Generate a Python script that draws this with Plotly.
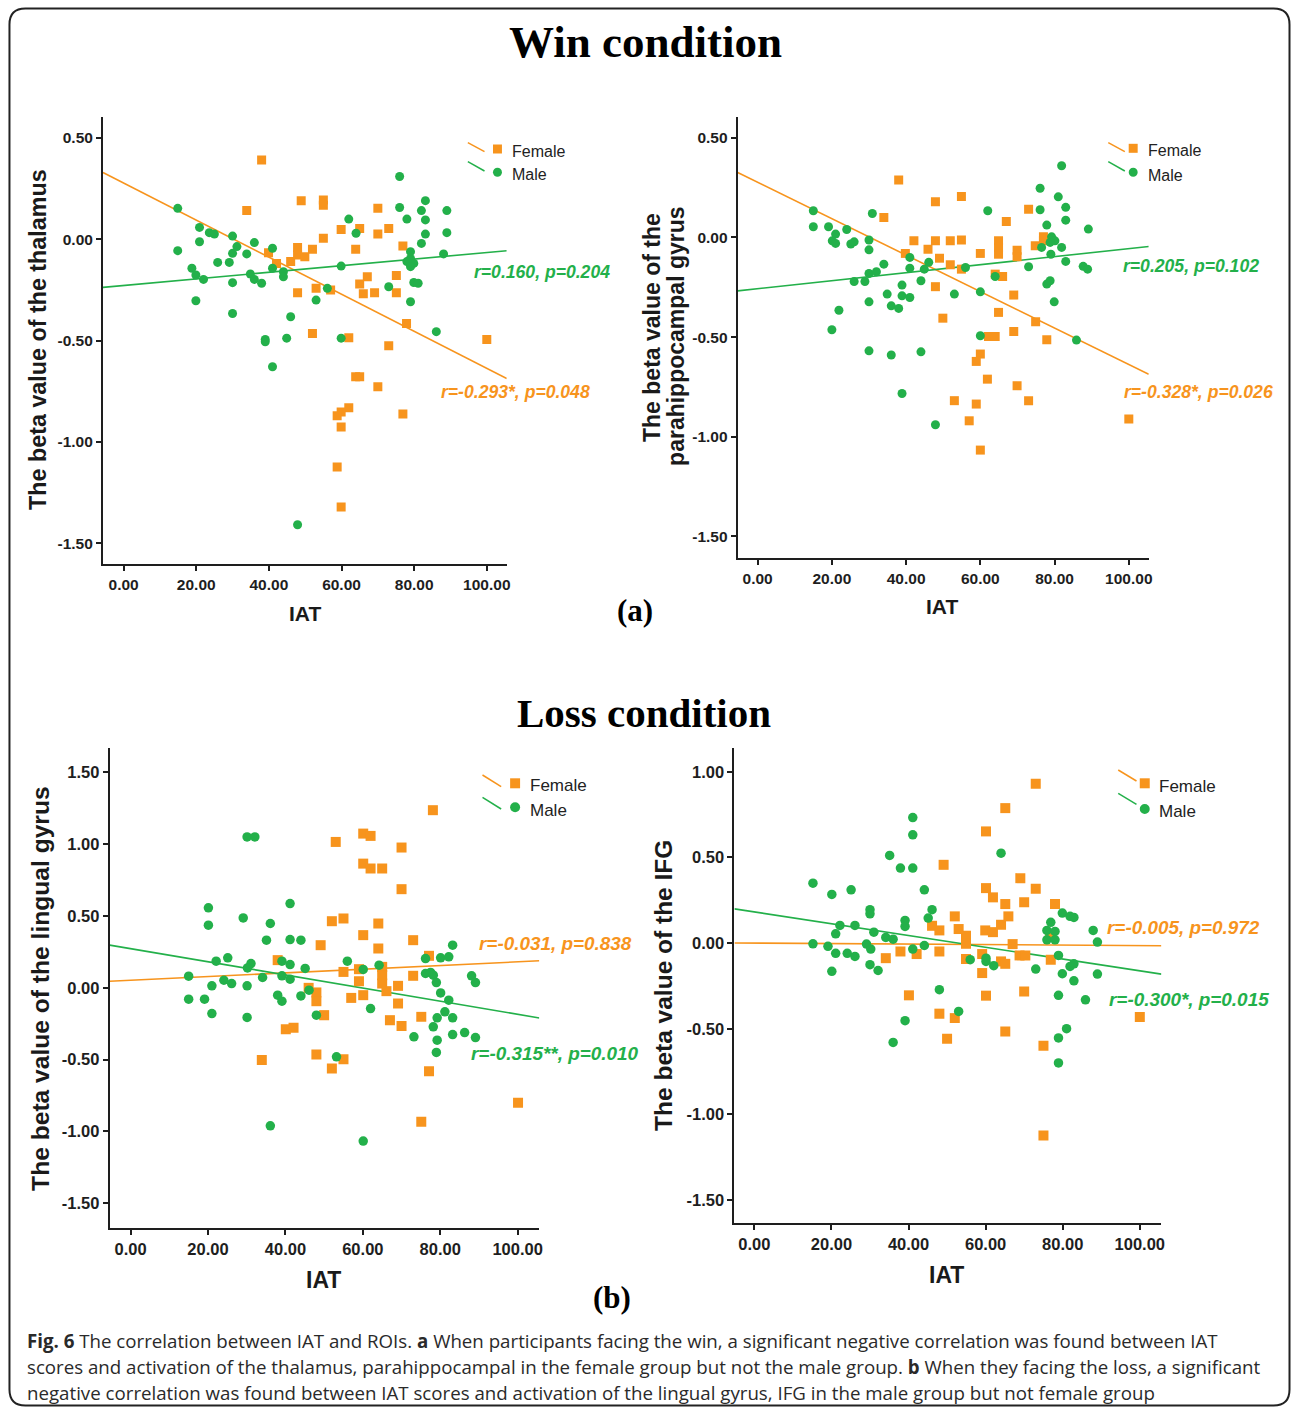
import plotly.graph_objects as go

W, H = 1295, 1410
ORANGE = "#F7941D"
GREEN = "#23B04A"
SANS = "Liberation Sans, Arial, sans-serif"
SERIF = "Liberation Serif, Times New Roman, serif"

# ---------------- data ----------------
# (a) Win condition - thalamus
a_female_iat = [38.0, 48.9, 55.0, 55.0, 33.9, 70.0, 59.9, 65.0, 73.0, 70.0, 55.0, 76.9, 47.9, 52.0, 63.9,
                39.9, 47.9, 49.9, 46.0, 42.1, 67.1, 65.0, 75.1, 53.0, 47.9, 57.0, 66.0, 69.1, 75.1, 77.9,
                52.0, 62.0, 73.0, 100.0, 63.9, 65.0, 70.0, 76.9, 62.0, 59.9, 58.8, 59.9, 58.8, 59.9]
a_female_beta = [0.392, 0.191, 0.194, 0.168, 0.142, 0.153, 0.049, 0.054, 0.053, 0.026, 0.005, -0.033, -0.040,
                 -0.049, -0.049, -0.066, -0.077, -0.086, -0.110, -0.119, -0.185, -0.221, -0.178, -0.242, -0.264,
                 -0.250, -0.269, -0.264, -0.264, -0.415, -0.465, -0.486, -0.526, -0.494, -0.679, -0.679, -0.728,
                 -0.863, -0.832, -0.852, -0.871, -0.926, -1.124, -1.321]
a_male_iat = [14.9, 76.0, 83.1, 76.0, 82.0, 89.0, 78.0, 83.1, 62.0, 83.1, 89.0, 64.0, 82.0, 20.9, 23.6, 25.0,
              30.0, 20.9, 36.0, 41.0, 14.9, 31.2, 30.0, 33.9, 29.1, 25.9, 79.0, 79.0, 79.9, 78.0, 79.0, 88.1,
              59.9, 41.0, 44.0, 44.0, 18.8, 19.9, 22.0, 34.9, 36.0, 38.0, 30.0, 79.9, 81.1, 73.0, 56.1, 19.9,
              53.0, 79.0, 30.0, 46.0, 39.0, 39.0, 44.9, 59.9, 86.1, 41.0, 47.9]
a_male_beta = [0.153, 0.310, 0.191, 0.157, 0.142, 0.142, 0.100, 0.096, 0.100, 0.026, 0.033, 0.030, -0.020,
               0.059, 0.033, 0.026, 0.016, -0.012, -0.016, -0.044, -0.056, -0.036, -0.069, -0.072, -0.114,
               -0.114, -0.061, -0.094, -0.119, -0.110, -0.135, -0.072, -0.132, -0.143, -0.160, -0.185, -0.143,
               -0.176, -0.198, -0.171, -0.198, -0.217, -0.214, -0.213, -0.217, -0.234, -0.242, -0.303, -0.300,
               -0.308, -0.366, -0.382, -0.494, -0.506, -0.488, -0.488, -0.456, -0.629, -1.409]

# (a) Win condition - parahippocampal gyrus
b_female_iat = [38.0, 47.9, 54.9, 34.0, 73.0, 67.0, 42.1, 47.9, 51.9, 54.9, 77.0, 77.0, 74.8, 45.9, 64.9,
                64.9, 64.9, 60.0, 69.9, 69.9, 39.8, 49.0, 51.9, 54.9, 64.0, 66.0, 47.9, 69.0, 64.9, 49.9,
                74.9, 69.0, 77.9, 62.2, 64.0, 60.0, 58.9, 61.9, 69.9, 53.0, 58.9, 73.0, 57.0, 100.0, 60.0]
b_female_beta = [0.288, 0.179, 0.206, 0.100, 0.142, 0.080, -0.017, -0.017, -0.017, -0.013, 0.003, -0.017,
                 -0.042, -0.059, -0.017, -0.050, -0.084, -0.080, -0.064, -0.097, -0.080, -0.104, -0.137,
                 -0.159, -0.184, -0.196, -0.247, -0.289, -0.376, -0.405, -0.423, -0.472, -0.513, -0.497,
                 -0.497, -0.585, -0.622, -0.711, -0.744, -0.819, -0.836, -0.819, -0.920, -0.911, -1.067]
b_male_iat = [81.9, 76.1, 81.0, 83.0, 76.1, 62.0, 83.0, 30.9, 15.0, 15.0, 19.1, 24.0, 21.0, 89.1, 77.9, 79.2,
              80.1, 78.8, 76.5, 81.9, 79.0, 83.0, 73.0, 87.7, 88.9, 20.1, 21.0, 25.1, 26.0, 30.0, 30.0, 41.0,
              41.0, 46.1, 44.9, 34.0, 56.0, 30.0, 32.0, 26.0, 28.9, 44.0, 38.9, 38.9, 41.0, 34.9, 36.0, 38.0,
              30.0, 53.0, 60.0, 64.0, 77.9, 78.8, 79.9, 21.9, 20.0, 30.0, 36.0, 44.0, 60.0, 85.9, 38.9, 47.9]
b_male_beta = [0.360, 0.247, 0.204, 0.151, 0.139, 0.134, 0.087, 0.120, 0.134, 0.054, 0.054, 0.040, 0.017,
               0.042, 0.062, 0.003, -0.017, -0.025, -0.050, -0.050, -0.084, -0.120, -0.147, -0.145, -0.159,
               -0.017, -0.030, -0.033, -0.022, -0.013, -0.062, -0.100, -0.154, -0.125, -0.159, -0.134, -0.151,
               -0.181, -0.172, -0.221, -0.221, -0.217, -0.239, -0.293, -0.301, -0.284, -0.343, -0.356, -0.323,
               -0.284, -0.273, -0.196, -0.234, -0.217, -0.323, -0.365, -0.463, -0.569, -0.590, -0.574, -0.493,
               -0.515, -0.783, -0.940]

# (b) Loss condition - lingual gyrus
c_female_iat = [78.1, 60.1, 62.0, 53.0, 70.0, 60.1, 62.0, 65.0, 70.0, 52.0, 55.0, 64.0, 60.1, 73.0, 49.1,
                64.0, 38.0, 77.1, 59.0, 55.0, 65.0, 65.0, 65.0, 73.0, 59.0, 66.1, 69.1, 46.0, 48.0, 48.0,
                57.0, 60.1, 69.1, 50.0, 75.1, 67.0, 70.0, 40.1, 42.1, 33.9, 48.0, 55.0, 52.0, 77.1, 75.1, 100.1]
c_female_beta = [1.237, 1.074, 1.058, 1.016, 0.977, 0.865, 0.831, 0.831, 0.687, 0.464, 0.483, 0.448, 0.367,
                 0.332, 0.297, 0.274, 0.193, 0.223, 0.130, 0.111, 0.146, 0.088, 0.030, 0.084, 0.046, -0.023,
                 0.014, 0.000, -0.032, -0.093, -0.070, -0.051, -0.109, -0.190, -0.202, -0.225, -0.265, -0.288,
                 -0.278, -0.503, -0.464, -0.497, -0.561, -0.580, -0.933, -0.800]
c_male_iat = [30.1, 32.1, 41.2, 20.1, 20.1, 29.1, 36.1, 35.1, 41.2, 44.0, 83.2, 22.1, 25.1, 31.1, 30.2, 39.1,
              41.2, 45.1, 56.0, 64.2, 60.1, 76.2, 80.1, 82.2, 76.2, 77.5, 78.2, 79.0, 88.1, 89.1, 15.0, 24.1,
              26.1, 21.0, 30.1, 34.1, 39.1, 41.2, 15.0, 19.1, 38.0, 39.1, 44.0, 46.1, 80.1, 82.2, 21.0, 30.1,
              48.0, 62.0, 81.2, 79.2, 83.2, 73.2, 78.2, 79.2, 83.2, 86.3, 89.1, 79.0, 53.2, 36.1, 60.1]
c_male_beta = [1.051, 1.051, 0.587, 0.557, 0.436, 0.487, 0.448, 0.332, 0.336, 0.332, 0.297, 0.186, 0.209,
               0.169, 0.139, 0.186, 0.162, 0.135, 0.186, 0.158, 0.128, 0.204, 0.209, 0.216, 0.100, 0.107,
               0.088, 0.037, 0.084, 0.037, 0.081, 0.053, 0.030, 0.014, 0.014, 0.072, 0.084, 0.060, -0.079,
               -0.079, -0.051, -0.093, -0.056, -0.016, -0.035, -0.086, -0.179, -0.206, -0.190, -0.144, -0.167,
               -0.209, -0.209, -0.341, -0.271, -0.364, -0.325, -0.311, -0.346, -0.450, -0.480, -0.961, -1.067]

# (b) Loss condition - IFG
d_female_iat = [73.0, 65.1, 60.1, 49.1, 69.0, 73.0, 60.1, 61.9, 65.1, 70.0, 78.0, 52.0, 65.9, 64.0, 46.1,
                48.0, 53.0, 59.9, 61.9, 54.9, 54.9, 76.7, 67.0, 37.9, 42.1, 48.0, 34.1, 54.9, 59.1, 68.8,
                70.3, 64.0, 65.1, 76.9, 59.1, 40.1, 60.1, 70.0, 48.0, 52.0, 65.1, 50.0, 75.0, 100.0, 75.0]
d_female_beta = [0.930, 0.788, 0.652, 0.457, 0.379, 0.317, 0.321, 0.267, 0.228, 0.239, 0.228, 0.156, 0.156,
                 0.107, 0.101, 0.074, 0.082, 0.074, 0.064, 0.043, -0.004, 0.039, -0.006, -0.049, -0.064,
                 -0.049, -0.088, -0.093, -0.064, -0.072, -0.072, -0.107, -0.121, -0.097, -0.175, -0.305,
                 -0.307, -0.282, -0.412, -0.438, -0.516, -0.558, -0.599, -0.432, -1.123]
d_male_iat = [41.1, 41.1, 35.1, 64.0, 37.9, 41.1, 15.2, 20.1, 25.1, 44.1, 30.0, 30.0, 46.1, 45.1, 39.1, 39.1,
              22.2, 26.1, 21.1, 31.0, 34.1, 36.0, 79.9, 81.9, 82.9, 76.9, 75.9, 78.0, 75.9, 78.0, 87.9, 89.0,
              15.2, 19.1, 29.1, 30.2, 44.1, 41.1, 21.1, 24.1, 26.1, 56.0, 60.1, 60.1, 62.1, 78.9, 81.9, 82.9,
              30.0, 32.1, 20.1, 73.0, 79.9, 82.9, 89.0, 48.0, 78.9, 85.9, 53.0, 39.1, 36.0, 81.0, 78.9, 78.9]
d_male_beta = [0.733, 0.632, 0.512, 0.525, 0.438, 0.438, 0.350, 0.284, 0.311, 0.311, 0.195, 0.171, 0.195,
               0.146, 0.132, 0.097, 0.103, 0.103, 0.054, 0.064, 0.033, 0.023, 0.175, 0.156, 0.150, 0.121,
               0.074, 0.068, 0.019, 0.019, 0.074, 0.006, -0.004, -0.019, -0.006, -0.035, -0.014, -0.035,
               -0.060, -0.060, -0.078, -0.097, -0.088, -0.107, -0.132, -0.072, -0.136, -0.121, -0.126,
               -0.160, -0.165, -0.152, -0.179, -0.220, -0.181, -0.272, -0.305, -0.331, -0.399, -0.453,
               -0.580, -0.500, -0.554, -0.700]

# fit lines: (intercept, slope)
fit_female = [(0.278, -0.00915), (0.277, -0.00914), (0.053, 0.00128), (0.000, -0.000144)]
fit_male = [(-0.228, 0.00163), (-0.257, 0.00201), (0.273, -0.00457), (0.182, -0.00344)]

female_stats = ["r=-0.293*, p=0.048", "r=-0.328*, p=0.026", "r=-0.031, p=0.838", "r=-0.005, p=0.972"]
male_stats = ["r=0.160, p=0.204", "r=0.205, p=0.102", "r=-0.315**, p=0.010", "r=-0.300*, p=0.015"]

x_ticks = [0, 20, 40, 60, 80, 100]
x_tick_labels = ["0.00", "20.00", "40.00", "60.00", "80.00", "100.00"]
y_ticks = [[-1.5, -1.0, -0.5, 0.0, 0.5], [-1.5, -1.0, -0.5, 0.0, 0.5],
           [-1.5, -1.0, -0.5, 0.0, 0.5, 1.0, 1.5], [-1.5, -1.0, -0.5, 0.0, 0.5, 1.0]]
y_tick_labels = [["-1.50", "-1.00", "-0.50", "0.00", "0.50"], ["-1.50", "-1.00", "-0.50", "0.00", "0.50"],
                 ["-1.50", "-1.00", "-0.50", "0.00", "0.50", "1.00", "1.50"],
                 ["-1.50", "-1.00", "-0.50", "0.00", "0.50", "1.00"]]
y_titles = ["The beta value of the thalamus", "The beta value of the<br>parahippocampal gyrus",
            "The beta value of the lingual gyrus", "The beta value of the IFG"]

# ---------------- layout geometry (pixels) ----------------
def px(x):
    return x / W

def py(y):
    return 1 - y / H

panels = [
    dict(xd=(103.3, 508.3), yd=(117, 564), xr=(-5.68, 105.49), yr=(-1.603, 0.604), tf=15.5, ms=(9, 9)),
    dict(xd=(740, 1152.3), yd=(116.7, 558.3), xr=(-5.37, 105.37), yr=(-1.61, 0.606), tf=15.5, ms=(9, 9)),
    dict(xd=(110, 541), yd=(748, 1227.7), xr=(-5.41, 105.6), yr=(-1.67, 1.67), tf=16.5, ms=(10, 9.5)),
    dict(xd=(736.7, 1165), yd=(748, 1223.3), xr=(-5.17, 105.6), yr=(-1.636, 1.139), tf=16.5, ms=(10, 9.5)),
]

data_sets = [
    (a_female_iat, a_female_beta, a_male_iat, a_male_beta),
    (b_female_iat, b_female_beta, b_male_iat, b_male_beta),
    (c_female_iat, c_female_beta, c_male_iat, c_male_beta),
    (d_female_iat, d_female_beta, d_male_iat, d_male_beta),
]

fig = go.Figure()
layout = dict(width=W, height=H, margin=dict(l=0, r=0, t=0, b=0), autosize=False,
              paper_bgcolor="white", plot_bgcolor="white", showlegend=False)

for i, (p, ds) in enumerate(zip(panels, data_sets)):
    n = "" if i == 0 else str(i + 1)
    xa, ya = "x" + n, "y" + n
    fx, fy, mx, my = ds
    x0, x1 = p["xr"]
    b0, b1 = fit_female[i]
    fig.add_trace(go.Scatter(x=[x0, x1], y=[b0 + b1 * x0, b0 + b1 * x1], mode="lines",
                             line=dict(color=ORANGE, width=1.6), xaxis=xa, yaxis=ya, hoverinfo="skip"))
    b0, b1 = fit_male[i]
    fig.add_trace(go.Scatter(x=[x0, x1], y=[b0 + b1 * x0, b0 + b1 * x1], mode="lines",
                             line=dict(color=GREEN, width=1.6), xaxis=xa, yaxis=ya, hoverinfo="skip"))
    fig.add_trace(go.Scatter(x=fx, y=fy, mode="markers", name="Female",
                             marker=dict(symbol="square", size=p["ms"][0], color=ORANGE, line=dict(width=0)),
                             xaxis=xa, yaxis=ya))
    fig.add_trace(go.Scatter(x=mx, y=my, mode="markers", name="Male",
                             marker=dict(symbol="circle", size=p["ms"][1], color=GREEN, line=dict(width=0)),
                             xaxis=xa, yaxis=ya))
    axis_common = dict(showline=True, linecolor="#1e1e1e", linewidth=2, showgrid=False, zeroline=False,
                       ticks="outside", ticklen=5, tickwidth=1.5, tickcolor="#1e1e1e",
                       tickfont=dict(family=SANS, size=p["tf"], color="#1e1e1e", weight="bold"),
                       fixedrange=True)
    layout["xaxis" + n] = dict(axis_common, domain=[px(p["xd"][0]), px(p["xd"][1])], range=list(p["xr"]),
                               tickvals=x_ticks, ticktext=x_tick_labels, anchor=ya)
    layout["yaxis" + n] = dict(axis_common, domain=[py(p["yd"][1]), py(p["yd"][0])], range=list(p["yr"]),
                               tickvals=y_ticks[i], ticktext=y_tick_labels[i], anchor=xa)

fig.update_layout(**layout)

ann = []
def text(x, y, t, size, family=SANS, color="#1a1a1a", xanchor="center", angle=0, yanchor="middle"):
    ann.append(dict(x=px(x), y=py(y), xref="paper", yref="paper", text=t, showarrow=False,
                    font=dict(family=family, size=size, color=color), xanchor=xanchor, yanchor=yanchor,
                    textangle=angle))

# headings
text(648, 42, "<b>Win condition</b>", 45, family=SERIF, color="#000")
text(637, 610, "<b>(a)</b>", 31, family=SERIF, color="#000")
text(645.5, 713, "<b>Loss condition</b>", 41, family=SERIF, color="#000")
text(614, 1297, "<b>(b)</b>", 31, family=SERIF, color="#000")

# axis titles
text(305.8, 613, "<b>IAT</b>", 21)
text(945, 606, "<b>IAT</b>", 21)
text(325, 1280, "<b>IAT</b>", 23)
text(949, 1275, "<b>IAT</b>", 23)
text(38, 340, "<b>" + y_titles[0] + "</b>", 23.3, angle=-90)
b_lines = y_titles[1].split("<br>")
text(654, 327, "<b>" + b_lines[0] + "</b>", 23, angle=-90)
text(678, 336, "<b>" + b_lines[1] + "</b>", 23, angle=-90)
text(40, 988, "<b>" + y_titles[2] + "</b>", 24.6, angle=-90)
text(666, 985, "<b>" + y_titles[3] + "</b>", 24.5, angle=-90)

# stats annotations
stat_pos_f = [(440, 391.7, 17.6), (1125.7, 391.7, 17.6), (478, 943, 18.9), (1108, 928, 18.9)]
stat_pos_m = [(473, 271.7, 17.6), (1124, 266, 17.6), (470, 1053, 18.9), (1110, 999, 18.9)]
for i in range(4):
    x, y, s = stat_pos_f[i]
    text(x, y, "<b><i>" + female_stats[i] + "</i></b>", s, color=ORANGE, xanchor="left")
    x, y, s = stat_pos_m[i]
    text(x, y, "<b><i>" + male_stats[i] + "</i></b>", s, color=GREEN, xanchor="left")

# legends (SPSS style: diagonal line + marker + label)
shapes = []
legends = [
    dict(lf=(469.3, 142.7, 486, 151.7), sq=(499, 149), tf=(511.7, 151.5), lm=(469.3, 161.7, 486, 171), ci=(499, 172.3), tm=(511.7, 174.5), s=16, m=9),
    dict(lf=(1111.7, 142.7, 1128.3, 151.7), sq=(1136.7, 148.3), tf=(1149.3, 151), lm=(1111.7, 161.7, 1128.3, 171), ci=(1136.7, 172.3), tm=(1149.3, 175), s=16, m=9),
    dict(lf=(484, 775, 502.7, 786.7), sq=(516.7, 783.3), tf=(530, 785.5), lm=(484, 797.3, 502.7, 809), ci=(516.7, 807.3), tm=(530, 810), s=17, m=10),
    dict(lf=(1121.7, 770, 1140, 781), sq=(1148.3, 783.3), tf=(1161, 786), lm=(1121.7, 793.3, 1140, 804.3), ci=(1148.3, 809), tm=(1161, 811.5), s=17, m=10),
]
for lg in legends:
    for key, col in (("lf", ORANGE), ("lm", GREEN)):
        a, b, c, d = lg[key]
        shapes.append(dict(type="line", xref="paper", yref="paper", x0=px(a), y0=py(b), x1=px(c), y1=py(d),
                           line=dict(color=col, width=1.5)))
    h = lg["m"] / 2
    cx, cy = lg["sq"]
    shapes.append(dict(type="rect", xref="paper", yref="paper", x0=px(cx - h), x1=px(cx + h), y0=py(cy + h),
                       y1=py(cy - h), fillcolor=ORANGE, line=dict(width=0)))
    cx, cy = lg["ci"]
    shapes.append(dict(type="circle", xref="paper", yref="paper", x0=px(cx - h), x1=px(cx + h), y0=py(cy + h),
                       y1=py(cy - h), fillcolor=GREEN, line=dict(width=0)))
    text(lg["tf"][0], lg["tf"][1], "Female", lg["s"], xanchor="left", color="#222")
    text(lg["tm"][0], lg["tm"][1], "Male", lg["s"], xanchor="left", color="#222")

# caption
CAP = "Open Sans, Noto Sans, sans-serif"
caption_lines = [
    "<b>Fig. 6</b> The correlation between IAT and ROIs. <b>a</b> When participants facing the win, a significant negative correlation was found between IAT",
    "scores and activation of the thalamus, parahippocampal in the female group but not the male group. <b>b</b> When they facing the loss, a significant",
    "negative correlation was found between IAT scores and activation of the lingual gyrus, IFG in the male group but not female group",
]
for k, line in enumerate(caption_lines):
    text(25, 1340 + 26 * k, line, 18.7, family=CAP, color="#2a2a2a", xanchor="left")

# rounded outer frame
L, T, R, B, r = 9.5, 8.5, 1293.5, 1405.5, 16
rx, ry = r / W, r / H
path = (f"M {px(L)+rx},{py(T)} L {px(R)-rx},{py(T)} Q {px(R)},{py(T)} {px(R)},{py(T)-ry} "
        f"L {px(R)},{py(B)+ry} Q {px(R)},{py(B)} {px(R)-rx},{py(B)} "
        f"L {px(L)+rx},{py(B)} Q {px(L)},{py(B)} {px(L)},{py(B)+ry} "
        f"L {px(L)},{py(T)-ry} Q {px(L)},{py(T)} {px(L)+rx},{py(T)} Z")
shapes.append(dict(type="path", xref="paper", yref="paper", path=path, line=dict(color="#222", width=2)))

fig.update_layout(annotations=ann, shapes=shapes)
fig.write_html("out.html")
